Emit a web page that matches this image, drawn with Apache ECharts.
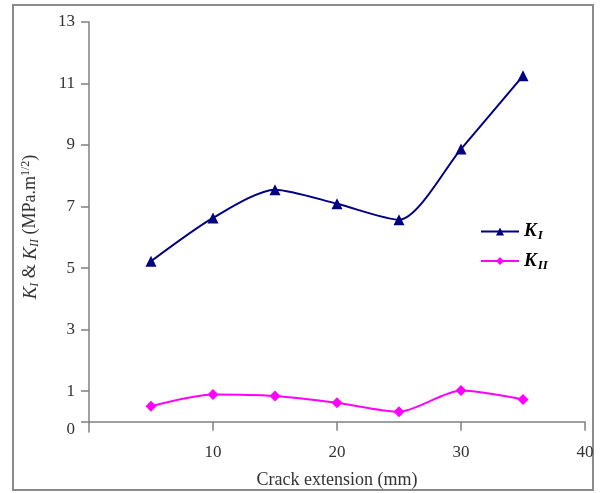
<!DOCTYPE html>
<html>
<head>
<meta charset="utf-8">
<script src="https://cdn.jsdelivr.net/npm/echarts@6/dist/echarts.min.js"></script>
<style>html,body{margin:0;padding:0;background:#fff;}#c{width:601px;height:493px;}</style>
</head>
<body>
<div id="c"></div>
<script>
const crackExt = [5, 10, 15, 20, 25, 30, 35];
const kI = [5.22, 6.63, 7.55, 7.09, 6.57, 8.87, 11.25];
const kII = [0.51, 0.89, 0.84, 0.62, 0.33, 1.02, 0.73];
const yTicks = [0, 1, 3, 5, 7, 9, 11, 13];
const xTicks = [10, 20, 30, 40];

const serif = '"Liberation Serif", "DejaVu Serif", serif';
const chart = echarts.init(document.getElementById('c'));
chart.setOption({
  backgroundColor: '#fff',
  animation: false,
  graphic: [{
    type: 'rect', shape: {x: 13, y: 5, width: 580, height: 485},
    style: {fill: 'none', stroke: '#8a8a8a', lineWidth: 2}, silent: true
  }],
  grid: {left: 89, right: 16, top: 22, bottom: 61, outerBoundsMode: 'none'},
  legend: {
    orient: 'vertical', left: 475, top: 217, itemGap: 9,
    itemWidth: 38, itemHeight: 10,
    data: ['KI', 'KII'],
    formatter: function (n) { return n === 'KI' ? '{k|K}{s|I}' : '{k|K}{s|II}'; },
    textStyle: {
      rich: {
        k: {fontFamily: serif, fontWeight: 'bold', fontStyle: 'italic', fontSize: 19, color: '#000'},
        s: {fontFamily: serif, fontWeight: 'bold', fontStyle: 'italic', fontSize: 13, color: '#000', padding: [9, 0, 0, 1]}
      }
    }
  },
  xAxis: {
    type: 'value', min: 0, max: 40, interval: 10,
    name: 'Crack extension (mm)', nameLocation: 'middle', nameGap: 39,
    nameTextStyle: {fontFamily: serif, fontSize: 18, color: '#333'},
    axisLine: {onZero: true, lineStyle: {color: '#808080', width: 1.5}},
    axisTick: {customValues: xTicks, length: 9, lineStyle: {color: '#808080', width: 1.5}},
    axisLabel: {customValues: xTicks, fontFamily: serif, fontSize: 17, color: '#333', margin: 12},
    splitLine: {show: false}
  },
  yAxis: {
    type: 'value', min: -0.33, max: 13,
    name: '{k|K}{s|I}{t| & }{k|K}{s|II}{t| (MPa.m}{p|1/2}{t|)}',
    nameLocation: 'middle', nameGap: 48, nameRotate: 90,
    nameTextStyle: {
      rich: {
        k: {fontFamily: serif, fontStyle: 'italic', fontSize: 19, color: '#333'},
        s: {fontFamily: serif, fontStyle: 'italic', fontSize: 12, color: '#333', padding: [9, 0, 0, 0]},
        t: {fontFamily: serif, fontSize: 18, color: '#333'},
        p: {fontFamily: serif, fontSize: 12, color: '#333', padding: [0, 0, 9, 0]}
      }
    },
    axisLine: {lineStyle: {color: '#808080', width: 1.5}},
    axisTick: {customValues: yTicks, length: 8, lineStyle: {color: '#808080', width: 1.5}},
    axisLabel: {
      customValues: yTicks.map(v => v === 0 ? -0.26 : v),
      formatter: v => (v < 0 ? '0' : String(v)),
      fontFamily: serif, fontSize: 17, color: '#333', margin: 14
    },
    splitLine: {show: false}
  },
  series: [
    {
      name: 'KI', type: 'line', smooth: 0.25,
      data: crackExt.map((x, i) => [x, kI[i]]),
      symbol: 'triangle', symbolSize: 11,
      lineStyle: {color: '#000080', width: 2},
      itemStyle: {color: '#000080'}
    },
    {
      name: 'KII', type: 'line', smooth: 0.25,
      data: crackExt.map((x, i) => [x, kII[i]]),
      symbol: 'diamond', symbolSize: 11,
      lineStyle: {color: '#ff00ff', width: 2},
      itemStyle: {color: '#ff00ff'}
    }
  ]
});
</script>
</body>
</html>
